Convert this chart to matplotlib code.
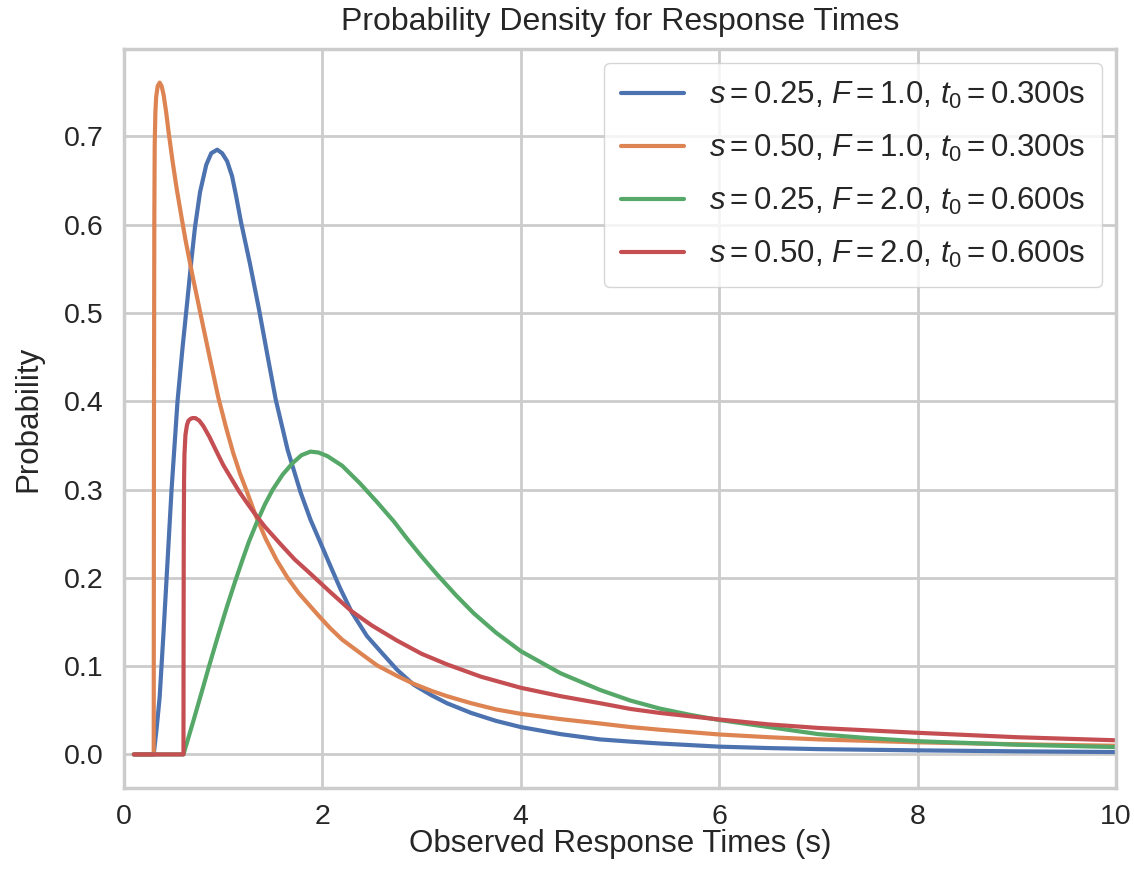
import matplotlib
matplotlib.use("Agg")
import matplotlib.pyplot as plt
import seaborn as sns

# values
blue_x = [0.1, 0.3, 0.33, 0.36, 0.40, 0.43, 0.48, 0.54, 0.59, 0.64, 0.68, 0.716,
          0.767, 0.83, 0.88, 0.94, 0.99, 1.04, 1.09, 1.13, 1.18, 1.27, 1.36, 1.45,
          1.53, 1.65, 1.78, 1.88, 1.98, 2.079, 2.18, 2.297, 2.45, 2.6, 2.752, 2.92,
          3.1, 3.256, 3.5, 3.75, 4.0, 4.4, 4.8, 5.106, 5.4, 6.0, 6.5, 7.0, 8.0, 9.0, 10.0]
blue_y = [0.0, 0.0, 0.03, 0.065, 0.14, 0.2, 0.3, 0.4, 0.46, 0.515, 0.56, 0.597,
          0.637, 0.668, 0.681, 0.685, 0.681, 0.672, 0.655, 0.633, 0.603, 0.556, 0.505, 0.45,
          0.402, 0.345, 0.297, 0.266, 0.24, 0.214, 0.188, 0.161, 0.134, 0.115, 0.096, 0.079,
          0.067, 0.058, 0.047, 0.038, 0.031, 0.023, 0.017, 0.0145, 0.0124, 0.0088, 0.0072, 0.006, 0.0046, 0.0035, 0.0027]

orange_x = [0.1, 0.3, 0.301, 0.303, 0.306, 0.31, 0.317, 0.325, 0.34, 0.36, 0.38, 0.40,
            0.425, 0.45, 0.49, 0.53, 0.575, 0.62, 0.69, 0.77, 0.86, 0.95, 1.03, 1.1,
            1.17, 1.245, 1.33, 1.43, 1.54, 1.65, 1.76, 1.877, 1.98, 2.079, 2.2, 2.38,
            2.55, 2.752, 2.92, 3.1, 3.256, 3.5, 3.75, 4.0, 4.4, 4.8, 5.106, 5.4, 6.0,
            6.5, 7.0, 8.0, 9.0, 10.0]
orange_y = [0.0, 0.0, 0.15, 0.4, 0.6, 0.69, 0.728, 0.745, 0.757, 0.761, 0.757, 0.747,
            0.728, 0.705, 0.672, 0.642, 0.612, 0.583, 0.543, 0.5, 0.452, 0.405, 0.37, 0.342,
            0.318, 0.296, 0.27, 0.244, 0.22, 0.2, 0.183, 0.168, 0.155, 0.143, 0.13, 0.115,
            0.101, 0.089, 0.08, 0.072, 0.066, 0.058, 0.051, 0.046, 0.04, 0.035, 0.031, 0.028, 0.0226,
            0.0195, 0.017, 0.0137, 0.0115, 0.0098]

green_x = [0.1, 0.6, 0.7, 0.8, 0.858, 0.95, 1.04, 1.127, 1.2, 1.26, 1.34, 1.42,
           1.50, 1.6, 1.7, 1.79, 1.88, 1.96, 2.05, 2.2, 2.38, 2.55, 2.72, 2.85,
           2.987, 3.155, 3.35, 3.525, 3.75, 4.0, 4.4, 4.8, 5.106, 5.4, 5.7, 6.0,
           6.5, 7.0, 7.5, 8.0, 9.0, 10.0]
green_y = [0.0, 0.0, 0.038, 0.077, 0.1, 0.135, 0.168, 0.198, 0.222, 0.241, 0.263, 0.283,
           0.3, 0.317, 0.33, 0.339, 0.343, 0.342, 0.338, 0.327, 0.307, 0.286, 0.264, 0.245,
           0.226, 0.204, 0.18, 0.16, 0.138, 0.117, 0.092, 0.073, 0.061, 0.052, 0.045, 0.039,
           0.031, 0.023, 0.0185, 0.015, 0.011, 0.0083]

red_x = [0.1, 0.6, 0.601, 0.603, 0.606, 0.61, 0.62, 0.635, 0.65, 0.67, 0.69, 0.72,
         0.76, 0.80, 0.86, 0.925, 1.0, 1.08, 1.16, 1.24, 1.31, 1.42, 1.58, 1.72,
         1.877, 2.079, 2.297, 2.5, 2.752, 3.0, 3.256, 3.6, 4.0, 4.4, 4.8, 5.106,
         5.4, 6.0, 6.5, 7.0, 8.0, 9.0, 10.0]
red_y = [0.0, 0.0, 0.12, 0.25, 0.31, 0.34, 0.362, 0.373, 0.378, 0.38, 0.381, 0.381,
         0.378, 0.372, 0.36, 0.345, 0.328, 0.313, 0.298, 0.285, 0.274, 0.258, 0.238, 0.221,
         0.205, 0.184, 0.162, 0.146, 0.129, 0.114, 0.102, 0.088, 0.0755, 0.066, 0.058, 0.0515,
         0.047, 0.0396, 0.034, 0.030, 0.0245, 0.0195, 0.016]

labels = [
    r"$s = 0.25$, $F = 1.0$, $t_0 = 0.300$s",
    r"$s = 0.50$, $F = 1.0$, $t_0 = 0.300$s",
    r"$s = 0.25$, $F = 2.0$, $t_0 = 0.600$s",
    r"$s = 0.50$, $F = 2.0$, $t_0 = 0.600$s",
]

sns.set_theme(style="whitegrid")
plt.rcParams["font.family"] = ["Liberation Sans", "DejaVu Sans"]
plt.rcParams["mathtext.fontset"] = "custom"
plt.rcParams["mathtext.rm"] = "Liberation Sans"
plt.rcParams["mathtext.it"] = "Liberation Sans:italic"
plt.rcParams["axes.linewidth"] = 2.5
plt.rcParams["grid.linewidth"] = 2.0

pal = sns.color_palette("deep")

fig, ax = plt.subplots(figsize=(11.34, 8.88), dpi=100)
fig.subplots_adjust(left=0.1093, right=0.9841, bottom=0.1126, top=0.9448)

ax.plot(blue_x, blue_y, color=pal[0], lw=3, label=labels[0])
ax.plot(orange_x, orange_y, color=pal[1], lw=3, label=labels[1])
ax.plot(green_x, green_y, color=pal[2], lw=3, label=labels[2])
ax.plot(red_x, red_y, color=pal[3], lw=3, label=labels[3])

ax.set_xlim(0, 10)
ax.tick_params(axis="x", labelsize=20.5, pad=5.5)
ax.tick_params(axis="y", labelsize=20.5, pad=8.5)
ax.set_xlabel("Observed Response Times (s)", fontsize=22.5, labelpad=-1)
ax.set_ylabel("Probability", fontsize=22.5, labelpad=15)
ax.set_title("Probability Density for Response Times", fontsize=23, pad=14)
ax.legend(loc="upper right", fontsize=22.5, labelspacing=0.7, borderpad=0.55,
          borderaxespad=0.45)

plt.savefig("out.png", dpi=100)
